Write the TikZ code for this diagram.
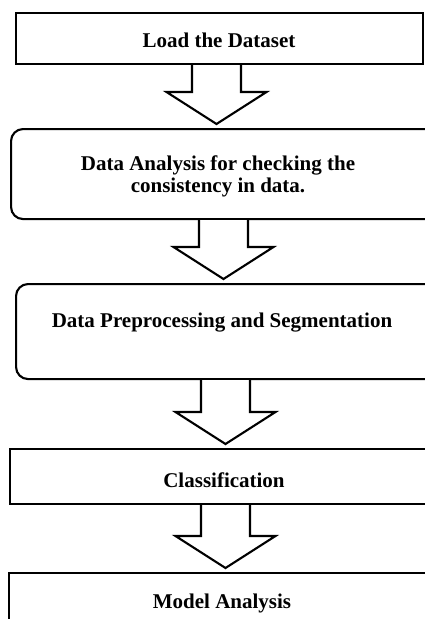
\documentclass[tikz,border=0pt]{standalone}
\usepackage{fontspec}
\setmainfont{Liberation Serif}
\usetikzlibrary{calc}

% block arrow from the bottom of one box to just above the next one
% #1 upper box, #2 lower box, #3 coordinate giving the arrow's axis
\newcommand\blockarrow[3]{%
  \draw[blockarr]
    ($(#3 |- #1.south)+(-24.5,0)$) --
    ($(#3 |- #2.north)+(-24.5,-36)$) --
    ($(#3 |- #2.north)+(-50,-36)$) --
    ($(#3 |- #2.north)+(0,-4)$) --
    ($(#3 |- #2.north)+(50,-36)$) --
    ($(#3 |- #2.north)+(24.5,-36)$) --
    ($(#3 |- #1.south)+(24.5,0)$);}

\begin{document}
\begin{tikzpicture}[x=1pt,y=-1pt,
  box/.style={draw, line width=2.1pt, fill=white, anchor=north west, inner sep=0pt},
  roundbox/.style={box, rounded corners=12pt},
  lbl/.style={font=\bfseries\fontsize{21}{24}\selectfont, inner sep=0pt, anchor=base},
  blockarr/.style={draw, line width=2.1pt, line join=miter, fill=white}]
\useasboundingbox (0,0) rectangle (425,619);
\clip (0,0) rectangle (425,619);

% boxes
\node[box, minimum width=406.5pt, minimum height=51pt] (load) at (15,12) {};
\node[roundbox, minimum width=430pt, minimum height=90pt] (analysis) at (10,128) {};
\node[roundbox, minimum width=430pt, minimum height=95pt] (prep) at (15,283) {};
\node[box, minimum width=440pt, minimum height=55pt] (classif) at (9,448) {};
\node[box, minimum width=440pt, minimum height=80pt] (model) at (8,572) {};

% texts
\node[lbl] (tload) at (219,47) {Load the Dataset};
\node[lbl] (tanalysis1) at (218,170) {Data Analysis for checking the};
\node[lbl] (tanalysis2) at (218,192) {consistency in data.};
\node[lbl] (tprep) at (222,327) {Data Preprocessing and Segmentation};
\node[lbl] (tclassif) at (224,487) {Classification};
\node[lbl] (tmodel) at (222,608) {Model Analysis};

% arrow axes
\coordinate (ax1) at (216.5,0);
\coordinate (ax2) at (223.5,0);
\coordinate (ax3) at (225.5,0);
\coordinate (ax4) at (225.5,0);

\blockarrow{load}{analysis}{ax1}
\blockarrow{analysis}{prep}{ax2}
\blockarrow{prep}{classif}{ax3}
\blockarrow{classif}{model}{ax4}
\end{tikzpicture}
\end{document}
